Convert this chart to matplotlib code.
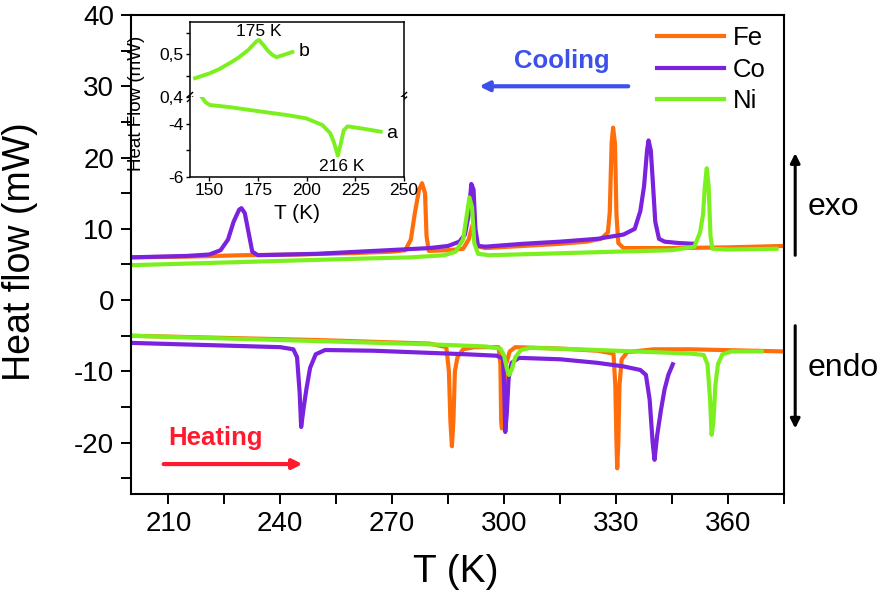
import matplotlib
matplotlib.use("Agg")
import matplotlib.pyplot as plt
from matplotlib.ticker import MultipleLocator, FixedLocator, FixedFormatter

plt.rcParams['font.family'] = ['Liberation Sans', 'DejaVu Sans']
plt.rcParams['axes.unicode_minus'] = False

# --- main DSC curves (T in K, heat flow in mW) ---
fe_cool_T = [200, 215, 230, 245, 260, 270, 273.5, 275, 276, 277.2, 278, 278.8, 279.2, 279.8,
             285, 289, 290.5, 291.5, 292.5, 295, 305, 315, 322, 326, 327.8, 328.3, 328.8,
             329.2, 329.7, 330.1, 330.6, 332, 345, 360, 375]
fe_cool_Q = [6.0, 6.1, 6.3, 6.4, 6.6, 6.8, 7.0, 8.5, 12.0, 15.5, 16.4, 15.0, 9.0, 6.9,
             7.0, 7.2, 8.5, 10.5, 7.6, 7.3, 7.6, 7.9, 8.2, 8.6, 9.5, 12.3, 22.0,
             24.2, 22.0, 12.0, 8.0, 7.3, 7.3, 7.4, 7.6]

co_cool_T = [200, 215, 221, 224, 226, 227.5, 229, 229.6, 230.5, 231.5, 232.5, 234, 250, 265,
             280, 285, 288, 289.5, 290.5, 291.2, 291.8, 292.3, 293, 295, 305, 315, 325, 332,
             335, 336.5, 337.5, 338.3, 338.7, 339.3, 339.8, 340.5, 341.5, 343, 347, 351]
co_cool_Q = [6.0, 6.2, 6.4, 7.0, 8.5, 11.0, 12.7, 12.9, 12.2, 9.5, 6.8, 6.3, 6.5, 6.9,
             7.3, 7.6, 8.2, 9.2, 12.0, 16.3, 15.5, 10.0, 7.6, 7.5, 7.9, 8.2, 8.6, 9.2,
             10.0, 12.5, 16.0, 21.0, 22.4, 21.0, 17.0, 11.0, 8.6, 8.2, 8.0, 7.9]

ni_cool_T = [200, 220, 240, 260, 275, 284, 287, 289, 290, 290.7, 291.4, 292, 293, 296, 310,
             330, 345, 351, 352.5, 353.3, 353.8, 354.3, 354.8, 355.3, 355.8, 360, 373]
ni_cool_Q = [4.9, 5.2, 5.5, 5.8, 6.0, 6.3, 6.8, 8.5, 12.0, 14.4, 13.0, 8.0, 6.5, 6.3, 6.5,
             6.8, 7.0, 7.5, 9.5, 12.0, 16.0, 18.5, 16.0, 9.0, 7.2, 7.1, 7.2]

fe_heat_T = [200, 250, 280, 284.5, 285.2, 285.6, 286.0, 286.4, 286.8, 287.5, 289, 292, 298.5,
             299.0, 299.2, 299.4, 299.8, 300.5, 301.5, 303, 315, 325, 329.3, 329.8, 330.1,
             330.3, 330.6, 330.9, 331.5, 333, 340, 350, 375]
fe_heat_Q = [-5.0, -5.6, -6.1, -6.6, -10.0, -17.0, -20.5, -17.0, -10.0, -8.0, -6.9, -6.6, -6.6,
             -9.0, -17.0, -18.0, -14.0, -9.0, -7.2, -6.6, -6.8, -7.1, -7.5, -12.0, -20.0,
             -23.6, -20.0, -12.0, -8.3, -7.3, -6.9, -6.9, -7.2]

co_heat_T = [200, 220, 240, 243.5, 244.5, 245.2, 245.6, 246.3, 247, 248, 249.5, 252, 265, 280,
             290, 298, 299.7, 300.0, 300.3, 300.7, 301.2, 302, 304, 315, 325, 332, 336.5, 338,
             339, 339.8, 340.3, 341, 342, 343, 344, 345.2]
co_heat_Q = [-6.0, -6.3, -6.6, -6.9, -8.0, -13.0, -17.8, -15.0, -12.5, -9.5, -7.6, -7.0, -7.1, -7.4,
             -7.6, -7.8, -8.2, -12.0, -18.5, -16.0, -11.0, -8.8, -8.1, -8.3, -8.8, -9.3, -9.8, -10.5,
             -14.0, -20.0, -22.4, -19.0, -15.5, -12.5, -10.5, -9.0]

ni_heat_T = [200, 220, 240, 260, 280, 295, 299, 300, 300.7, 301.3, 302, 303, 304.5, 307, 320,
             340, 350, 353.5, 354.5, 355.2, 355.6, 356.1, 356.6, 357.3, 358.5, 361, 369]
ni_heat_Q = [-5.0, -5.3, -5.6, -5.9, -6.2, -6.5, -6.8, -7.8, -9.5, -10.5, -9.8, -8.0, -7.0, -6.7, -6.9,
             -7.3, -7.5, -7.7, -9.0, -14.0, -18.9, -17.0, -12.0, -9.0, -7.6, -7.2, -7.2]

# --- inset: Ni curves at low temperature ---
inset_b_T = [142.6, 150, 155, 160.4, 165, 170, 174.2, 175.5, 178, 180, 182.4, 184.4, 188, 192.6]
inset_b_Q = [0.444, 0.455, 0.465, 0.479, 0.492, 0.510, 0.530, 0.533, 0.520, 0.508, 0.498, 0.493, 0.498, 0.505]
inset_a_T = [146, 148, 150.2, 160.4, 175, 190, 199.7, 208, 212, 214, 216, 217.5, 219, 221, 230, 238]
inset_a_Q = [-3.0, -3.2, -3.3, -3.38, -3.53, -3.68, -3.8, -4.05, -4.35, -4.7, -5.2, -4.75, -4.25, -4.1, -4.2, -4.3]

series = [("Fe", "#FF6E0A", fe_cool_T, fe_cool_Q, fe_heat_T, fe_heat_Q),
          ("Co", "#7A22DD", co_cool_T, co_cool_Q, co_heat_T, co_heat_Q),
          ("Ni", "#7CF01E", ni_cool_T, ni_cool_Q, ni_heat_T, ni_heat_Q)]

fig = plt.figure(figsize=(8.87, 6.01), dpi=100)
ax = fig.add_axes([131 / 887, 107 / 601, 653 / 887, 479 / 601])

for name, col, tc, qc, th, qh in series:
    ax.plot(tc, qc, color=col, lw=3.0, label=name, solid_joinstyle='round')
    ax.plot(th, qh, color=col, lw=3.0, solid_joinstyle='round')

ax.set_xlim(200, 375)
ax.set_ylim(-27.2, 40)
ax.xaxis.set_major_locator(FixedLocator([210, 240, 270, 300, 330, 360]))
ax.xaxis.set_minor_locator(FixedLocator([225, 255, 285, 315, 345, 375]))
ax.yaxis.set_major_locator(MultipleLocator(10))
ax.yaxis.set_minor_locator(MultipleLocator(5))
ax.tick_params(which='both', direction='out', length=7, width=1.4, top=False, right=False)
ax.tick_params(labelsize=20, pad=5)
for s in ax.spines.values():
    s.set_linewidth(1.5)
ax.set_xlabel("T (K)", fontsize=28)
ax.set_ylabel("Heat flow (mW)", fontsize=27)
ax.xaxis.set_label_coords(0.497, -0.125)
ax.yaxis.set_label_coords(-0.143, 0.505)

ax.legend(loc='upper left', bbox_to_anchor=(657 / 887, 1 - 26 / 601), bbox_transform=fig.transFigure,
          frameon=False, fontsize=18.5, handlelength=2.6, handletextpad=0.35, labelspacing=0.3,
          borderpad=0, borderaxespad=0)

# cooling / heating arrows
ax.annotate("", xy=(292.6, 30), xytext=(334, 30),
            arrowprops=dict(arrowstyle='-|>', color='#3C50EB', lw=3, mutation_scale=14))
ax.text(315.4, 33.5, "Cooling", color='#3C50EB', fontsize=18.5, fontweight='bold', ha='center', va='center')
ax.annotate("", xy=(246.7, -23.0), xytext=(208, -23.0),
            arrowprops=dict(arrowstyle='-|>', color='#FF1A2E', lw=3, mutation_scale=14))
ax.text(222.6, -19.4, "Heating", color='#FF1A2E', fontsize=18.5, fontweight='bold', ha='center', va='center')

# exo / endo arrows outside the frame
ax.annotate("", xy=(378, 21.0), xytext=(378, 5.9), annotation_clip=False,
            arrowprops=dict(arrowstyle='-|>', color='black', lw=2.2, mutation_scale=14))
ax.annotate("", xy=(378, -18.4), xytext=(378, -3.2), annotation_clip=False,
            arrowprops=dict(arrowstyle='-|>', color='black', lw=2.2, mutation_scale=14))
ax.text(381.2, 13.0, "exo", fontsize=23, ha='left', va='center', clip_on=False)
ax.text(381.2, -9.5, "endo", fontsize=23, ha='left', va='center', clip_on=False)

# inset with broken y axis
ins_top = fig.add_axes([190 / 887, 1 - 97 / 601, 214 / 887, 75 / 601])
ins_bot = fig.add_axes([190 / 887, 1 - 177 / 601, 214 / 887, 80 / 601])
green = "#7CF01E"
ins_top.plot(inset_b_T, inset_b_Q, color=green, lw=2.8)
ins_bot.plot(inset_a_T, inset_a_Q, color=green, lw=2.8)
for a in (ins_top, ins_bot):
    a.set_xlim(140, 250)
    for s in a.spines.values():
        s.set_linewidth(1.1)
    a.tick_params(which='both', direction='out', length=3, width=1, labelsize=12.5, pad=1.5)
ins_top.set_ylim(0.4, 0.575)
ins_top.yaxis.set_major_locator(FixedLocator([0.4, 0.5]))
ins_top.yaxis.set_major_formatter(FixedFormatter(["0,4", "0,5"]))
ins_top.yaxis.set_minor_locator(FixedLocator([0.45, 0.55]))
ins_top.spines['bottom'].set_visible(False)
ins_top.tick_params(axis='x', which='both', bottom=False, labelbottom=False)
ins_bot.set_ylim(-6, -3)
ins_bot.yaxis.set_major_locator(FixedLocator([-6, -4]))
ins_bot.yaxis.set_minor_locator(FixedLocator([-5]))
ins_bot.spines['top'].set_visible(False)
ins_bot.xaxis.set_major_locator(FixedLocator([150, 175, 200, 225, 250]))
ins_bot.set_xlabel("T (K)", fontsize=15, labelpad=4)
fig.text(137 / 887, 1 - 103 / 601, "Heat Flow (mW)", rotation=90, fontsize=13.5, ha='center', va='center')

# break marks on both side spines
for xb in (0, 1):
    for dy in (-0.03, 0.03):
        ins_top.plot([xb - 0.012, xb + 0.012], [dy - 0.03, dy + 0.03], transform=ins_top.transAxes,
                     color='black', lw=1, clip_on=False)

ins_top.text(175.5, 0.552, "175 K", fontsize=12.5, ha='center', va='center')
ins_top.text(196, 0.505, "b", fontsize=14, ha='left', va='center')
ins_bot.text(218, -5.6, "216 K", fontsize=12.5, ha='center', va='center')
ins_bot.text(241, -4.35, "a", fontsize=14, ha='left', va='center')

fig.savefig("out.png", dpi=100)
